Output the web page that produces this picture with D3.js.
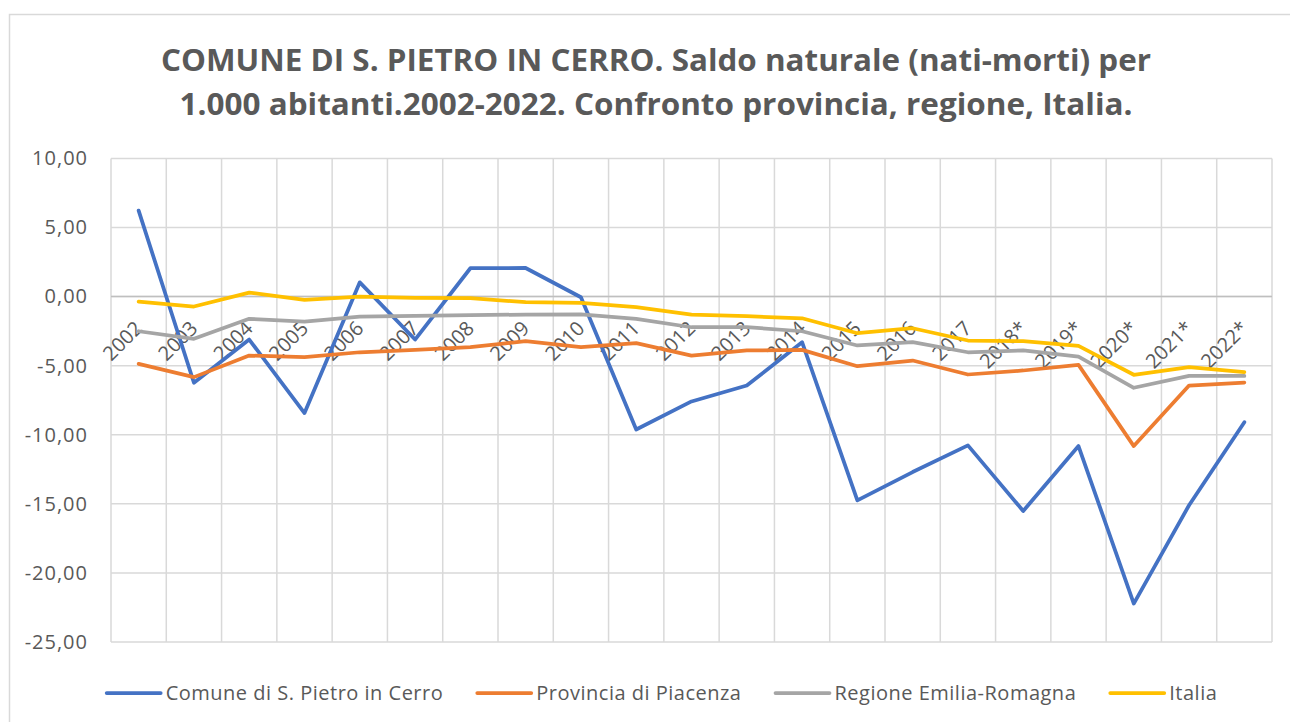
<!DOCTYPE html>
<html>
<head>
<meta charset="utf-8">
<script src="https://cdn.jsdelivr.net/npm/d3@7"></script>
<style>
  body { margin: 0; background: #fff; }
  svg { display: block; font-family: "Open Sans", "Liberation Sans", sans-serif; }
</style>
</head>
<body>
<svg id="chart" width="1290" height="722"></svg>
<script>
var years = ["2002", "2003", "2004", "2005", "2006", "2007", "2008", "2009", "2010", "2011",
             "2012", "2013", "2014", "2015", "2016", "2017", "2018*", "2019*", "2020*", "2021*", "2022*"];

var comune = [6.22, -6.24, -3.11, -8.43, 1.03, -3.11, 2.05, 2.07, -0.05, -9.62,
              -7.59, -6.44, -3.30, -14.75, -12.70, -10.77, -15.52, -10.82, -22.22, -15.10, -9.09];
var provincia = [-4.87, -5.83, -4.27, -4.39, -4.03, -3.86, -3.66, -3.23, -3.66, -3.37,
                 -4.27, -3.90, -3.86, -5.04, -4.63, -5.64, -5.35, -4.94, -10.82, -6.44, -6.22];
var regione = [-2.51, -3.06, -1.61, -1.81, -1.45, -1.40, -1.35, -1.30, -1.28, -1.61,
               -2.22, -2.22, -2.51, -3.54, -3.30, -4.03, -3.90, -4.34, -6.60, -5.74, -5.74];
var italia = [-0.36, -0.72, 0.29, -0.24, 0.00, -0.10, -0.12, -0.41, -0.46, -0.77,
              -1.30, -1.42, -1.57, -2.65, -2.29, -3.18, -3.23, -3.57, -5.66, -5.11, -5.47];

var seriesNames = ["Comune di S. Pietro in Cerro", "Provincia di Piacenza", "Regione Emilia-Romagna", "Italia"];
var seriesColors = ["#4472c4", "#ed7d31", "#a5a5a5", "#ffc000"];
var yTicks = [10, 5, 0, -5, -10, -15, -20, -25];
var titleLines = ["COMUNE DI S. PIETRO IN CERRO. Saldo naturale (nati-morti) per",
                  "1.000 abitanti.2002-2022. Confronto provincia, regione, Italia."];

var svg = d3.select("#chart"),
    textColor = "#595959",
    plot = {left: 111, right: 1272, top: 158.4, bottom: 642};

// outer chart border
svg.append("rect")
    .attr("x", 9.5).attr("y", 14.5)
    .attr("width", 1300).attr("height", 800)
    .attr("fill", "none")
    .attr("stroke", "#d9d9d9")
    .attr("stroke-width", 1.5);

// title
var titleWidths = [990, 953];
svg.append("g").selectAll("text").data(titleLines)
    .enter().append("text")
    .attr("x", 656)
    .attr("y", function(d, i) { return 71 + i * 44; })
    .attr("text-anchor", "middle")
    .attr("fill", textColor)
    .attr("font-weight", "bold")
    .attr("font-size", 30)
    .attr("textLength", function(d, i) { return titleWidths[i]; })
    .attr("lengthAdjust", "spacingAndGlyphs")
    .text(function(d) { return d; });

var x = d3.scaleBand().domain(years).range([plot.left, plot.right]),
    y = d3.scaleLinear().domain([-25, 10]).range([plot.bottom, plot.top]);

// horizontal gridlines
svg.append("g").selectAll("line").data(yTicks)
    .enter().append("line")
    .attr("x1", plot.left).attr("x2", plot.right)
    .attr("y1", function(d) { return y(d); })
    .attr("y2", function(d) { return y(d); })
    .attr("stroke", "#d9d9d9")
    .attr("stroke-width", 1.5);

// vertical gridlines on category boundaries
var bounds = years.map(function(d) { return x(d); }).concat([plot.right]);
svg.append("g").selectAll("line").data(bounds)
    .enter().append("line")
    .attr("x1", function(d) { return d; }).attr("x2", function(d) { return d; })
    .attr("y1", plot.top).attr("y2", plot.bottom)
    .attr("stroke", "#d9d9d9")
    .attr("stroke-width", 1.5);

// category axis at zero
svg.append("line")
    .attr("x1", plot.left).attr("x2", plot.right)
    .attr("y1", y(0)).attr("y2", y(0))
    .attr("stroke", "#bfbfbf")
    .attr("stroke-width", 1.5);

// y axis labels
var yAxis = d3.axisLeft(y).tickValues(yTicks).tickSize(0).tickPadding(0)
    .tickFormat(function(d) { return d3.format(".2f")(d).replace(".", ",").replace("−", "-"); });
var yg = svg.append("g").attr("transform", "translate(" + 88 + ",0)").call(yAxis);
yg.select(".domain").remove();
yg.selectAll("text")
    .attr("fill", textColor)
    .attr("font-size", 20)
    .attr("letter-spacing", 1)
    .attr("font-family", "Open Sans, sans-serif");

// rotated category labels
svg.append("g").selectAll("text").data(years)
    .enter().append("text")
    .attr("transform", function(d) {
      return "translate(" + (x(d) + x.bandwidth() / 2 + 5) + "," + (y(0) + 33) + ") rotate(-45)";
    })
    .attr("text-anchor", "end")
    .attr("fill", textColor)
    .attr("font-size", 20)
    .text(function(d) { return d; });

// series lines
var allSeries = [comune, provincia, regione, italia];
var line = d3.line()
    .x(function(d, i) { return x(years[i]) + x.bandwidth() / 2; })
    .y(function(d) { return y(d); });

svg.append("g").selectAll("path").data(allSeries)
    .enter().append("path")
    .attr("d", line)
    .attr("fill", "none")
    .attr("stroke", function(d, i) { return seriesColors[i]; })
    .attr("stroke-width", 3.75)
    .attr("stroke-linejoin", "round")
    .attr("stroke-linecap", "round");

// legend
var legend = svg.append("g"),
    legendY = 693,
    lineLen = 54,
    cursor = 0;
var items = legend.selectAll("g").data(seriesNames)
    .enter().append("g");
items.append("line")
    .attr("x1", 0).attr("x2", lineLen)
    .attr("y1", 0).attr("y2", 0)
    .attr("stroke", function(d, i) { return seriesColors[i]; })
    .attr("stroke-width", 3.75)
    .attr("stroke-linecap", "round");
items.append("text")
    .attr("x", lineLen + 5)
    .attr("y", 0)
    .attr("dy", "0.35em")
    .attr("fill", textColor)
    .attr("font-size", 20)
    .attr("letter-spacing", 0.5)
    .text(function(d) { return d; });
items.each(function() {
  var g = d3.select(this),
      w = lineLen + 5 + g.select("text").node().getComputedTextLength();
  g.attr("transform", "translate(" + cursor + "," + legendY + ")");
  cursor += w + 34;
});
var legendWidth = cursor - 34;
legend.attr("transform", "translate(" + (662 - legendWidth / 2) + ",0)");
</script>
</body>
</html>
